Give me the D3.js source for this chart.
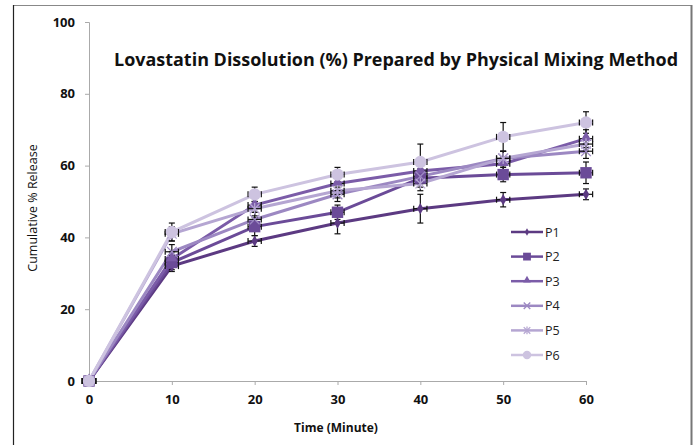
<!DOCTYPE html>
<html>
<head>
<meta charset="utf-8">
<script src="https://cdn.jsdelivr.net/npm/d3@7"></script>
<style>
  body { margin: 0; background: #fff; }
  svg { display: block; font-family: "Open Sans", "Liberation Sans", sans-serif; }
</style>
</head>
<body>
<svg id="chart" width="697" height="445"></svg>
<script>
// data
var times = [0, 10, 20, 30, 40, 50, 60];
var seriesNames = ["P1", "P2", "P3", "P4", "P5", "P6"];
var P1 = [0, 32, 39, 44, 48, 50.5, 52];
var P2 = [0, 33, 43, 47, 56.5, 57.5, 58];
var P3 = [0, 34, 49, 55, 58.5, 60.5, 67.5];
var P4 = [0, 36, 45, 52, 57, 62, 64];
var P5 = [0, 41, 48, 53, 55, 62, 66];
var P6 = [0, 41.5, 52, 57.5, 61, 68, 72];
var errP1 = [0, 1.5, 1.5, 3, 4, 2, 1.5];
var errP2 = [0, 2, 2.5, 2, 2.5, 2, 3];
var errP3 = [0, 2, 2, 2, 2, 2, 2.5];
var errP4 = [0, 2, 2, 2, 2, 2, 2];
var errP5 = [0, 2, 2, 2, 2, 2, 2];
var errP6 = [0, 2.5, 2, 2, 5, 4, 3];
var yTicks = [0, 20, 40, 60, 80, 100];
var xTicks = [0, 10, 20, 30, 40, 50, 60];

var values = [P1, P2, P3, P4, P5, P6];
var errors = [errP1, errP2, errP3, errP4, errP5, errP6];
var colors = ["#5c3a82", "#6b4b98", "#7b5ca8", "#9c88c2", "#b5a6d2", "#cdc3e0"];
var shapes = ["diamond", "square", "triangle", "x", "star", "circle"];

var svg = d3.select("#chart");

// frame
svg.append("rect").attr("x", 13.5).attr("y", 5.5).attr("width", 678).attr("height", 450)
  .attr("fill", "none").attr("stroke", "#888").attr("stroke-width", 1);
svg.append("line").attr("x1", 13.5).attr("x2", 13.5).attr("y1", 5).attr("y2", 445)
  .attr("stroke", "#222").attr("stroke-width", 1.2);
svg.append("line").attr("x1", 691.5).attr("x2", 691.5).attr("y1", 5).attr("y2", 445)
  .attr("stroke", "#777").attr("stroke-width", 2);

var x = d3.scaleLinear().domain([0, 60]).range([89, 586]);
var y = d3.scaleLinear().domain([0, 100]).range([381, 22]);

// axes
var xAxis = svg.append("g").attr("transform", "translate(0,381)")
  .call(d3.axisBottom(x).tickValues(xTicks).tickSize(4).tickPadding(10));
var yAxis = svg.append("g").attr("transform", "translate(89,0)")
  .call(d3.axisLeft(y).tickValues(yTicks).tickSize(4).tickPadding(10));
[xAxis, yAxis].forEach(function (g) {
  g.select(".domain").attr("stroke", "#aaa");
  g.selectAll(".tick line").attr("stroke", "#aaa");
  g.selectAll("text").attr("fill", "#111").attr("font-size", 13).attr("font-weight", "bold")
    .attr("font-family", "'Open Sans', sans-serif");
});

// titles
svg.append("text").attr("x", 396).attr("y", 66).attr("text-anchor", "middle")
  .attr("font-size", 18).attr("font-weight", "bold").attr("fill", "#111")
  .attr("textLength", 564).attr("lengthAdjust", "spacingAndGlyphs")
  .text("Lovastatin Dissolution (%) Prepared by Physical Mixing Method");
svg.append("text").attr("x", 336).attr("y", 432).attr("text-anchor", "middle")
  .attr("font-size", 12).attr("font-weight", "bold").attr("fill", "#111")
  .text("Time (Minute)");
svg.append("text").attr("transform", "translate(37,208) rotate(-90)").attr("text-anchor", "middle")
  .attr("font-size", 12.5).attr("fill", "#111")
  .text("Cumulative % Release");

function marker(g, shape, color, cx, cy, k) {
  if (shape === "diamond") {
    g.append("path").attr("d", d3.symbol(d3.symbolDiamond, 40 * k * k)()).attr("transform", "translate(" + cx + "," + cy + ")").attr("fill", color);
  } else if (shape === "square") {
    g.append("rect").attr("x", cx - 6 * k).attr("y", cy - 6 * k).attr("width", 12 * k).attr("height", 12 * k).attr("fill", color);
  } else if (shape === "triangle") {
    g.append("path").attr("d", d3.symbol(d3.symbolTriangle, 60 * k * k)()).attr("transform", "translate(" + cx + "," + (cy - 1) + ")").attr("fill", color);
  } else if (shape === "x") {
    g.append("path").attr("d", d3.symbol(d3.symbolX, 70 * k * k)()).attr("transform", "translate(" + cx + "," + cy + ")")
      .attr("fill", "none").attr("stroke", color).attr("stroke-width", 1.3);
  } else if (shape === "star") {
    g.append("path").attr("d", d3.symbol(d3.symbolX, 70 * k * k)()).attr("transform", "translate(" + cx + "," + cy + ")")
      .attr("fill", "none").attr("stroke", color).attr("stroke-width", 1.3);
    g.append("line").attr("x1", cx).attr("x2", cx).attr("y1", cy - 6 * k).attr("y2", cy + 6 * k)
      .attr("stroke", color).attr("stroke-width", 1.3);
  } else {
    g.append("circle").attr("cx", cx).attr("cy", cy).attr("r", 6.5 * k).attr("fill", color);
  }
}

var line = d3.line().x(function (d) { return x(d[0]); }).y(function (d) { return y(d[1]); });

values.forEach(function (vals, i) {
  var g = svg.append("g");
  var pts = times.map(function (t, j) { return [t, vals[j]]; });
  g.append("path").attr("d", line(pts)).attr("fill", "none")
    .attr("stroke", colors[i]).attr("stroke-width", 3);
});

// error bars (vertical and small horizontal)
values.forEach(function (vals, i) {
  var g = svg.append("g").attr("stroke", "#111").attr("stroke-width", 1.2);
  times.forEach(function (t, j) {
    var e = errors[i][j];
    var cx = x(t), cy = y(vals[j]);
    if (e > 0) {
      g.append("line").attr("x1", cx).attr("x2", cx).attr("y1", y(vals[j] + e)).attr("y2", y(vals[j] - e));
      g.append("line").attr("x1", cx - 3).attr("x2", cx + 3).attr("y1", y(vals[j] + e)).attr("y2", y(vals[j] + e));
      g.append("line").attr("x1", cx - 3).attr("x2", cx + 3).attr("y1", y(vals[j] - e)).attr("y2", y(vals[j] - e));
    }
    var h = 0.8;
    g.append("line").attr("x1", x(t - h)).attr("x2", x(t + h)).attr("y1", cy).attr("y2", cy);
    g.append("line").attr("x1", x(t - h)).attr("x2", x(t - h)).attr("y1", cy - 3).attr("y2", cy + 3);
    g.append("line").attr("x1", x(t + h)).attr("x2", x(t + h)).attr("y1", cy - 3).attr("y2", cy + 3);
  });
});

values.forEach(function (vals, i) {
  var g = svg.append("g");
  times.forEach(function (t, j) { marker(g, shapes[i], colors[i], x(t), y(vals[j]), 0.95); });
});

// legend
var legY = d3.scalePoint().domain(seriesNames).range([232, 355]);
seriesNames.forEach(function (name, i) {
  var ly = legY(name);
  var g = svg.append("g");
  g.append("line").attr("x1", 511).attr("x2", 543).attr("y1", ly).attr("y2", ly)
    .attr("stroke", colors[i]).attr("stroke-width", 2.5);
  marker(g, shapes[i], colors[i], 527, ly, 0.65);
  g.append("text").attr("x", 545).attr("y", ly + 4.5).attr("font-size", 12.5).attr("fill", "#222").text(name);
});
</script>
</body>
</html>
